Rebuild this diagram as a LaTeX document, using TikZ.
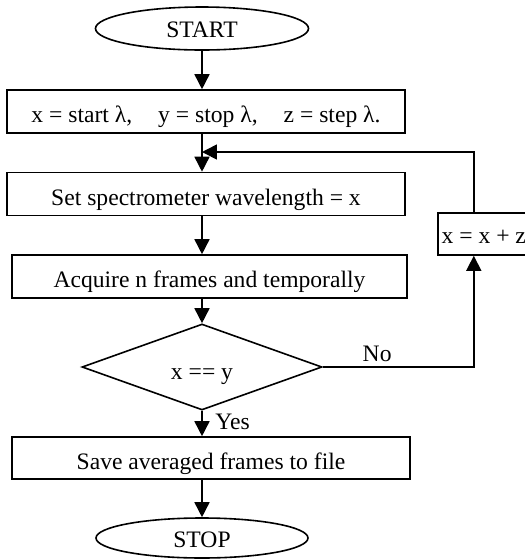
\documentclass[tikz,border=0pt]{standalone}
\usepackage{fontspec}
\setmainfont{Liberation Serif}
\usepackage{tikz}
\usetikzlibrary{arrows.meta,positioning,shapes.geometric}
\tikzset{
    >={Triangle[length=7.5pt,width=7.5pt]},
    every picture/.style={line width=0.8pt},
    terminal/.style={ellipse,draw,minimum width=106.5pt,minimum height=21.5pt,inner sep=0pt,text height=9pt,text depth=0pt},
    process/.style={rectangle,draw,minimum width=199pt,minimum height=21.5pt,inner sep=0pt,text height=11pt,text depth=0pt},
    decision/.style={diamond,draw,minimum width=120pt,minimum height=30pt,inner sep=0pt,text height=12pt,text depth=0pt}
}

\begin{document}
\begin{tikzpicture}[x=0.5pt,y=-0.5pt,
        every node/.style={font=\fontsize{11.8}{14}\selectfont}]
        \useasboundingbox (0,0) rectangle (525,559);

        % Main column
        \node[terminal] (start) at (202,28.5) {START};
        \node[process] (init) at (206,111.5) {x = start λ,\hspace{13pt}y = stop λ,\hspace{13pt}z = step λ.};
        \node[process] (setwl) at (206,194) {Set spectrometer wavelength = x};
        \node[process,minimum width=197.5pt] (acquire) at (209.5,276.5) {Acquire n frames and temporally};
        \node[decision] (test) at (202,367) {x == y};
        \node[process,minimum height=21pt] (save) at (211,458) {Save averaged frames to file};
        \node[terminal,minimum width=106pt,minimum height=20pt] (stop) at (202,538) {STOP};

        % Loop back
        \node[process,minimum width=46pt,minimum height=21pt,anchor=west,text height=9pt] (incr) at (437,234) {x = x + z};
        \coordinate (merge) at (202,152);

        \draw[->] (start.south) -- (start.south |- init.north);
        \draw[->] (init.south -| start) -- (setwl.north -| start);
        \draw[->] (setwl.south -| start) -- (acquire.north -| start);
        \draw[->] (acquire.south -| start) -- (test.north);
        \draw[->] (test.south) -- node[right,pos=0.45,xshift=3pt] {Yes} (test.south |- save.north);
        \draw[->] (save.south -| start) -- (stop.north);
        \draw[->] (test.east) -| node[above,pos=0.18,inner sep=2pt] {No} ([xshift=-5pt]incr.south);
        \draw[->] ([xshift=-5pt]incr.north) |- (merge);
    \end{tikzpicture}
\end{document}
